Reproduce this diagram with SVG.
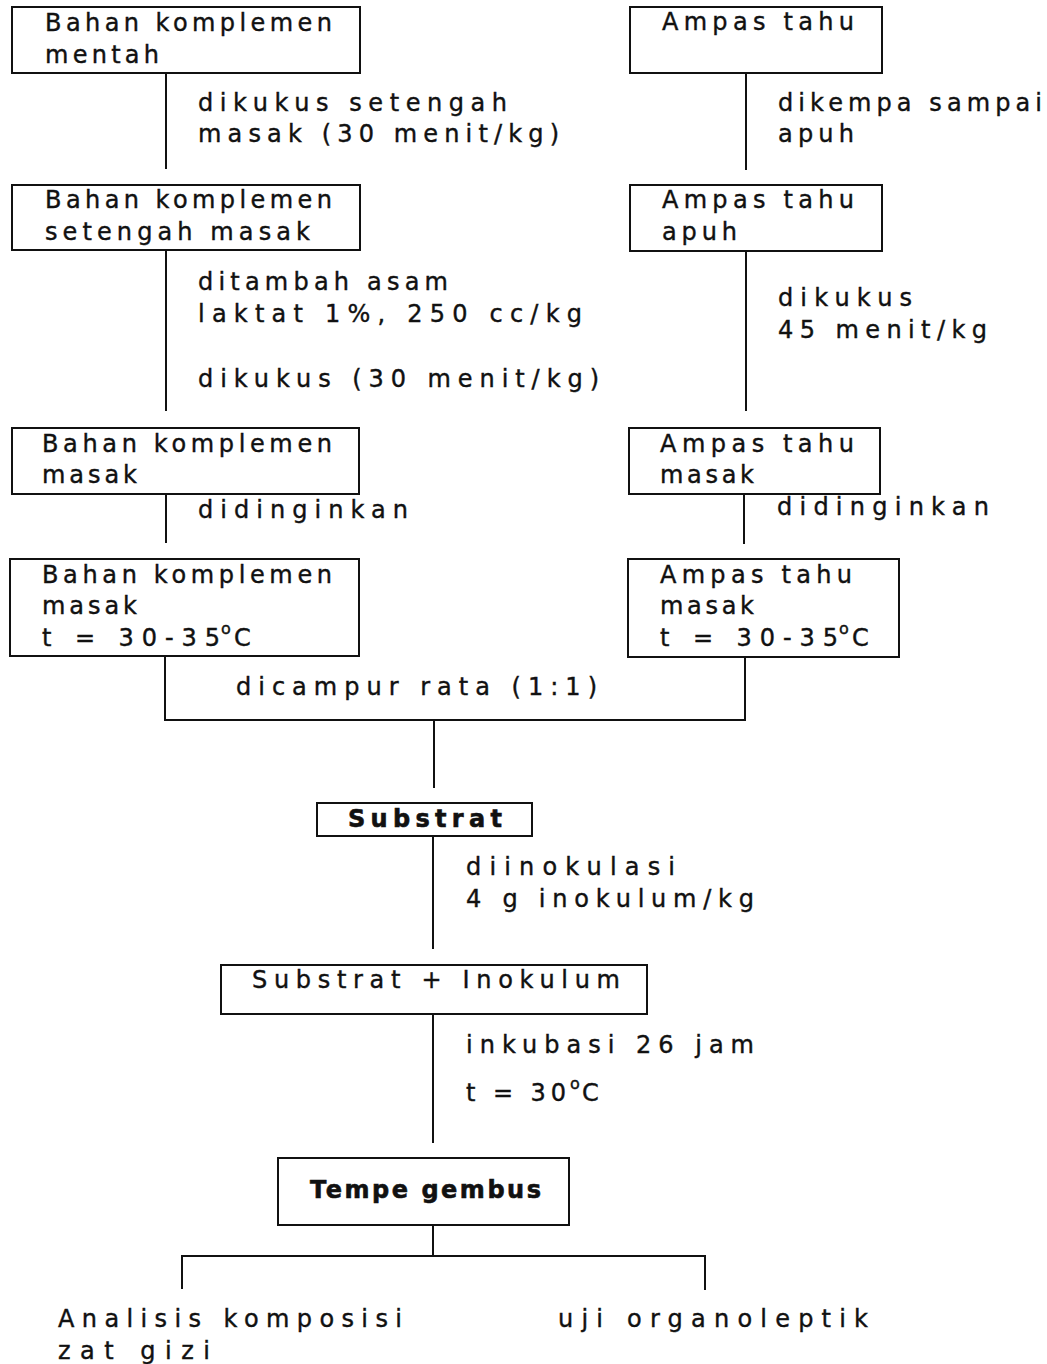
<svg xmlns="http://www.w3.org/2000/svg" width="1047" height="1364" viewBox="0 0 1047 1364">
<style>
text{font-family:"DejaVu Sans","Liberation Sans",sans-serif;font-size:24px;fill:#111;stroke:#111;stroke-width:0.4;}
.b{font-weight:bold;stroke-width:0.6;}
.sup{font-size:16px;}
.box{fill:none;stroke:#111;stroke-width:2;}
.ln{fill:none;stroke:#111;stroke-width:2;}
</style>
<g id="connectors">
<line class="ln" x1="166" y1="73" x2="166" y2="169"/>
<line class="ln" x1="746" y1="73" x2="746" y2="170"/>
<line class="ln" x1="166" y1="250" x2="166" y2="411"/>
<line class="ln" x1="746" y1="251" x2="746" y2="411"/>
<line class="ln" x1="166" y1="494" x2="166" y2="543"/>
<line class="ln" x1="744" y1="494" x2="744" y2="544"/>
<polyline class="ln" points="165,656 165,720 745,720 745,657"/>
<line class="ln" x1="434" y1="720" x2="434" y2="788"/>
<line class="ln" x1="433" y1="836" x2="433" y2="949"/>
<line class="ln" x1="433" y1="1014" x2="433" y2="1143"/>
<line class="ln" x1="433" y1="1225" x2="433" y2="1256"/>
<polyline class="ln" points="182,1289 182,1256 705,1256 705,1290"/>
<text x="198" y="111" textLength="309" lengthAdjust="spacing">dikukus setengah</text>
<text x="198" y="142" textLength="361" lengthAdjust="spacing">masak (30 menit/kg)</text>
<text x="778" y="111" textLength="264" lengthAdjust="spacing">dikempa sampai</text>
<text x="778" y="142" textLength="76" lengthAdjust="spacing">apuh</text>
<text x="198" y="290" textLength="250" lengthAdjust="spacing">ditambah asam</text>
<text x="198" y="322" textLength="384" lengthAdjust="spacing">laktat 1%, 250 cc/kg</text>
<text x="198" y="387" textLength="401" lengthAdjust="spacing">dikukus (30 menit/kg)</text>
<text x="778" y="306" textLength="134" lengthAdjust="spacing">dikukus</text>
<text x="778" y="338" textLength="209" lengthAdjust="spacing">45 menit/kg</text>
<text x="198" y="518" textLength="210" lengthAdjust="spacing">didinginkan</text>
<text x="777" y="515" textLength="212" lengthAdjust="spacing">didinginkan</text>
<text x="236" y="695" textLength="361" lengthAdjust="spacing">dicampur rata (1:1)</text>
<text x="466" y="875" textLength="209" lengthAdjust="spacing">diinokulasi</text>
<text x="466" y="907" textLength="288" lengthAdjust="spacing">4 g inokulum/kg</text>
<text x="466" y="1053" textLength="288" lengthAdjust="spacing">inkubasi 26 jam</text>
<text x="466" y="1101" textLength="100" lengthAdjust="spacing">t = 30</text>
<text class="sup" x="570" y="1089">o</text>
<text x="582" y="1101">C</text>
</g>
<g id="n1">
<rect class="box" x="12" y="7" width="348" height="66"/>
<text x="45" y="31" textLength="287" lengthAdjust="spacing">Bahan komplemen</text>
<text x="45" y="63" textLength="114" lengthAdjust="spacing">mentah</text>
</g>
<g id="n2">
<rect class="box" x="630" y="7" width="252" height="66"/>
<text x="662" y="30" textLength="192" lengthAdjust="spacing">Ampas tahu</text>
</g>
<g id="n3">
<rect class="box" x="12" y="185" width="348" height="65"/>
<text x="45" y="208" textLength="287" lengthAdjust="spacing">Bahan komplemen</text>
<text x="45" y="240" textLength="265" lengthAdjust="spacing">setengah masak</text>
</g>
<g id="n4">
<rect class="box" x="630" y="185" width="252" height="66"/>
<text x="662" y="208" textLength="192" lengthAdjust="spacing">Ampas tahu</text>
<text x="662" y="240" textLength="75" lengthAdjust="spacing">apuh</text>
</g>
<g id="n5">
<rect class="box" x="12" y="428" width="347" height="66"/>
<text x="42" y="452" textLength="290" lengthAdjust="spacing">Bahan komplemen</text>
<text x="42" y="483" textLength="95" lengthAdjust="spacing">masak</text>
</g>
<g id="n6">
<rect class="box" x="629" y="428" width="251" height="66"/>
<text x="660" y="452" textLength="194" lengthAdjust="spacing">Ampas tahu</text>
<text x="660" y="483" textLength="94" lengthAdjust="spacing">masak</text>
</g>
<g id="n7">
<rect class="box" x="10" y="559" width="349" height="97"/>
<text x="42" y="583" textLength="290" lengthAdjust="spacing">Bahan komplemen</text>
<text x="42" y="614" textLength="95" lengthAdjust="spacing">masak</text>
<text x="42" y="646" textLength="178" lengthAdjust="spacing">t = 30-35</text>
<text class="sup" x="221" y="634">o</text>
<text x="234" y="646">C</text>
</g>
<g id="n8">
<rect class="box" x="628" y="559" width="271" height="98"/>
<text x="660" y="583" textLength="192" lengthAdjust="spacing">Ampas tahu</text>
<text x="660" y="614" textLength="94" lengthAdjust="spacing">masak</text>
<text x="660" y="646" textLength="178" lengthAdjust="spacing">t = 30-35</text>
<text class="sup" x="839" y="634">o</text>
<text x="852" y="646">C</text>
</g>
<g id="n9">
<rect class="box" x="317" y="803" width="215" height="33"/>
<text class="b" x="348" y="827" textLength="154" lengthAdjust="spacing">Substrat</text>
</g>
<g id="n10">
<rect class="box" x="221" y="965" width="426" height="49"/>
<text x="252" y="988" textLength="368" lengthAdjust="spacing">Substrat + Inokulum</text>
</g>
<g id="n11">
<rect class="box" x="278" y="1158" width="291" height="67"/>
<text class="b" x="310" y="1198" textLength="231" lengthAdjust="spacing">Tempe gembus</text>
</g>
<g id="n12">
<text x="58" y="1327" textLength="344" lengthAdjust="spacing">Analisis komposisi</text>
<text x="58" y="1359" textLength="152" lengthAdjust="spacing">zat gizi</text>
</g>
<g id="n13">
<text x="558" y="1327" textLength="310" lengthAdjust="spacing">uji organoleptik</text>
</g>
</svg>
